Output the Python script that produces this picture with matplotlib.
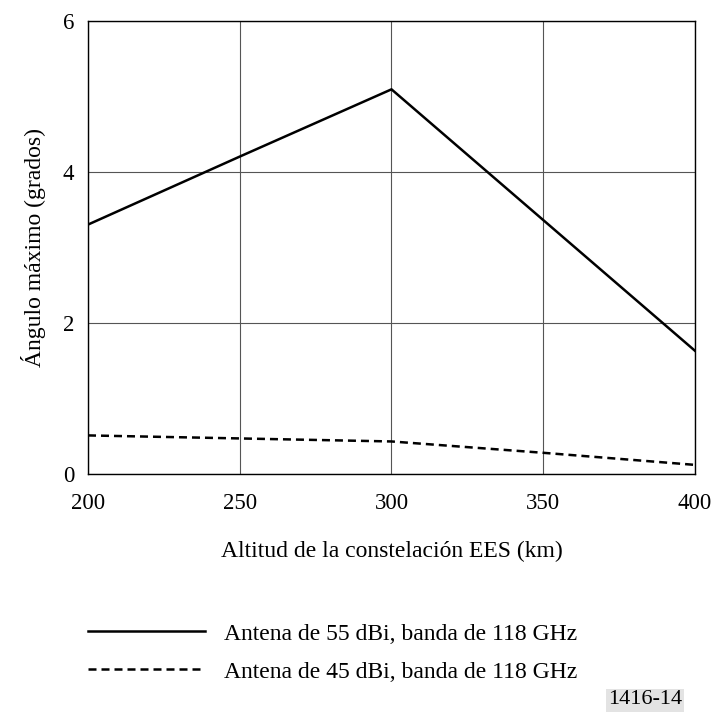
import matplotlib.pyplot as plt

plt.rcParams['font.family'] = ['Liberation Serif', 'DejaVu Serif']

# Altitude (km) and maximum angle (degrees)
altitud = [200, 250, 300, 350, 400]
ang_55dbi = [3.30, 4.20, 5.09, 3.36, 1.63]
ang_45dbi = [0.51, 0.47, 0.43, 0.28, 0.12]

xticks = [200, 250, 300, 350, 400]
yticks = [0, 2, 4, 6]

fig = plt.figure(figsize=(7.12, 7.14), dpi=100)
ax = fig.add_axes([0.1236, 0.3362, 0.8525, 0.635])

l1, = ax.plot(altitud, ang_55dbi, color='black', lw=1.8,
              label='Antena de 55 dBi, banda de 118 GHz')
l2, = ax.plot(altitud, ang_45dbi, color='black', lw=1.8, linestyle=(0, (3.2, 2)),
              label='Antena de 45 dBi, banda de 118 GHz')

ax.set_xlim(200, 400)
ax.set_ylim(0, 6)
ax.set_xticks(xticks)
ax.set_yticks(yticks)
ax.grid(True, color='#555555', lw=0.8)
ax.tick_params(length=0, labelsize=16.5)
ax.tick_params(axis='x', pad=14)
ax.tick_params(axis='y', pad=10)
for s in ax.spines.values():
    s.set_linewidth(1.0)

ax.set_xlabel('Altitud de la constelación EES (km)', fontsize=17, labelpad=19)
ax.set_ylabel('Ángulo máximo (grados)', fontsize=17, labelpad=12)

fig.legend(handles=[l1, l2], loc='upper left', bbox_to_anchor=(88 / 712, (714 - 623) / 714),
           frameon=False, fontsize=17, handlelength=4.95, handletextpad=0.8,
           borderpad=0, borderaxespad=0, labelspacing=0.7)

fig.text(645 / 712, (714 - 700) / 714, '1416-14', fontsize=16, ha='center', va='center',
         bbox=dict(facecolor='#e3e3e3', edgecolor='none', pad=1.5))

fig.savefig('out.png', dpi=100)
